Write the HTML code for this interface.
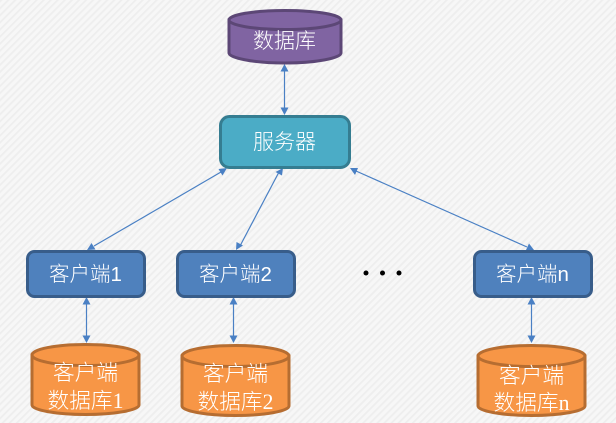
<!DOCTYPE html>
<html><head><meta charset="utf-8"><style>
html,body{margin:0;padding:0;width:616px;height:423px;overflow:hidden;background:#f5f5f5}
svg{display:block}
text{font-family:"Liberation Sans","Noto Sans CJK SC",sans-serif;fill:#fff;text-anchor:middle;font-size:21px;font-weight:300}
.s{font-size:20.5px}
.c{font-family:"Liberation Serif","Noto Sans CJK SC",serif;font-size:21.7px}
</style></head><body>
<svg width="616" height="423" viewBox="0 0 616 423" xmlns="http://www.w3.org/2000/svg">
<defs>
<pattern id="h" width="5" height="5" patternUnits="userSpaceOnUse" patternTransform="rotate(-45)">
<rect width="5" height="5" fill="#f7f7f7"/><rect width="5" height="1.8" fill="#eeeeee"/>
</pattern>
</defs>
<rect width="616" height="423" fill="url(#h)"/>

<g stroke="#4a80c4" stroke-width="1.2" fill="none">
<line x1="284.5" y1="70" x2="284.5" y2="110"/>
<line x1="221" y1="172" x2="94" y2="246"/>
<line x1="279" y1="172" x2="240" y2="246"/>
<line x1="356" y1="171" x2="527" y2="247"/>
<line x1="86.5" y1="303" x2="86.5" y2="339"/>
<line x1="233.5" y1="303" x2="233.5" y2="339"/>
<line x1="531.5" y1="303" x2="531.5" y2="339"/>
</g>
<g fill="#4a80c4">
<path d="M284.5 64l-4 7.5h8z"/><path d="M284.5 115l-4-7.5h8z"/>
<path d="M227 168l-8.5 1 4 6.5z"/><path d="M87 250l8.500-.5-4-6.500z"/>
<path d="M283 168l-7.500 4 6.500 3.500z"/><path d="M236 250l7-4.500-6.500-3.500z"/>
<path d="M350 168l5 7 3-7z"/><path d="M534 250l-5-6.500-3 6.500z"/>
<path d="M86.500 297l-4 7.500h8z"/><path d="M86.500 343l-4-7.500h8z"/>
<path d="M233.500 297l-4 7.500h8z"/><path d="M233.500 343l-4-7.500h8z"/>
<path d="M531.500 297l-4 7.500h8z"/><path d="M531.500 343l-4-7.500h8z"/>
</g>

<!-- Database -->
<g fill="#8064a2" stroke="#5c4776" stroke-width="3">
<path d="M229 20v33c0 5 25 10 56 10s56-5 56-10V20z"/>
<ellipse cx="285" cy="20" rx="56" ry="9.500"/>
</g>
<text x="284.500" y="48">数据库</text>

<!-- Server -->
<rect x="220.500" y="116.500" width="129" height="51" rx="9" fill="#4bacc6" stroke="#357d91" stroke-width="3"/>
<text x="284.500" y="149">服务器</text>

<!-- Clients -->
<g fill="#4f81bd" stroke="#385d8a" stroke-width="3">
<rect x="27.500" y="251.500" width="117" height="45" rx="7"/>
<rect x="177.500" y="251.500" width="117" height="45" rx="7"/>
<rect x="474.500" y="251.500" width="117" height="45" rx="7"/>
</g>
<text class="s" x="85.500" y="281">客户端1</text>
<text class="s" x="235.500" y="281">客户端2</text>
<text class="s" x="532.500" y="281">客户端n</text>

<!-- Dots -->
<circle cx="366" cy="273" r="2.500" fill="#000"/>
<circle cx="382.500" cy="273" r="2.500" fill="#000"/>
<circle cx="399" cy="273" r="2.500" fill="#000"/>

<!-- Client DBs -->
<g fill="#f79646" stroke="#b66d31" stroke-width="3">
<path d="M32 355v50c0 5 24 9.500 53.500 9.500s53.500-4.500 53.500-9.500v-50z"/>
<ellipse cx="85.500" cy="355" rx="53.500" ry="10.500"/>
<path d="M182 356v50c0 5 24 9.500 53.500 9.500s53.500-4.500 53.500-9.500v-50z"/>
<ellipse cx="235.500" cy="356" rx="53.500" ry="10.500"/>
<path d="M478 356v50c0 5 24 9.500 53.500 9.500s53.500-4.500 53.500-9.500v-50z"/>
<ellipse cx="531.500" cy="356" rx="53.500" ry="10.500"/>
</g>
<text class="c" x="85.500" y="380">客户端</text>
<text class="c" x="85.500" y="408">数据库1</text>
<text class="c" x="235.500" y="381">客户端</text>
<text class="c" x="235.500" y="409">数据库2</text>
<text class="c" x="531.500" y="383">客户端</text>
<text class="c" x="531.500" y="410">数据库n</text>
</svg>
</body></html>
